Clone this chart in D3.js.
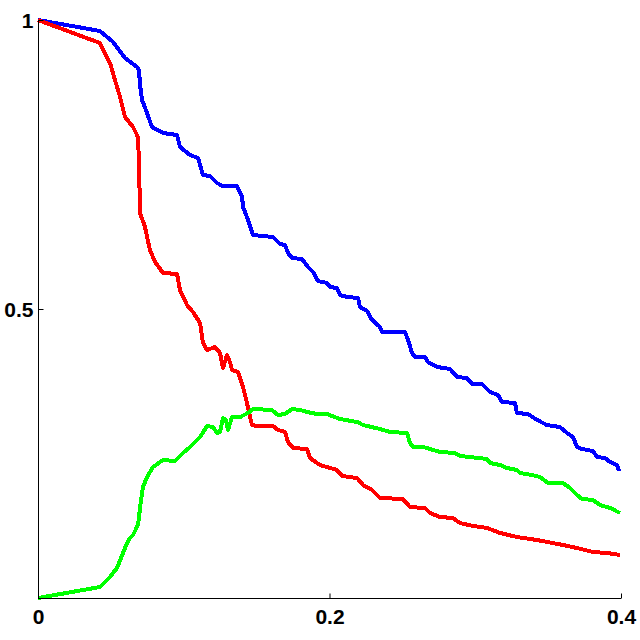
<!DOCTYPE html>
<html><head><meta charset="utf-8">
<script src="https://cdn.jsdelivr.net/npm/d3@7"></script>
<style>body{margin:0;background:#fff}svg{display:block}</style>
</head><body>
<svg id="c" width="640" height="640"></svg>
<script>
const xTicks = [0, 0.2, 0.4];
const xTickLabels = ["0", "0.2", "0.4"];
const yTicks = [0.5, 1];
const yTickLabels = ["0.5", "1"];

const blue = [[0,1],[0.0425,0.9810],[0.0515,0.9619],[0.0597,0.9343],[0.0679,0.9187],[0.0693,0.9135],[0.0700,0.8875],[0.0714,0.8616],[0.0748,0.8391],[0.0782,0.8149],[0.0858,0.8045],[0.0954,0.8010],[0.0974,0.7803],[0.1043,0.7664],[0.1098,0.7612],[0.1132,0.7318],[0.1180,0.7301],[0.1228,0.7180],[0.1269,0.7128],[0.1365,0.7128],[0.1400,0.6938],[0.1407,0.6765],[0.1441,0.6540],[0.1475,0.6280],[0.1612,0.6246],[0.1660,0.6125],[0.1695,0.6107],[0.1715,0.5969],[0.1743,0.5882],[0.1811,0.5865],[0.1852,0.5727],[0.1887,0.5640],[0.1921,0.5484],[0.1983,0.5450],[0.2003,0.5381],[0.2051,0.5363],[0.2072,0.5242],[0.2120,0.5208],[0.2196,0.5190],[0.2209,0.5035],[0.2257,0.4965],[0.2292,0.4810],[0.2346,0.4689],[0.2360,0.4602],[0.2518,0.4602],[0.2539,0.4464],[0.2566,0.4239],[0.2587,0.4170],[0.2655,0.4170],[0.2676,0.4083],[0.2738,0.3997],[0.2827,0.3962],[0.2875,0.3824],[0.2943,0.3806],[0.2978,0.3702],[0.3046,0.3702],[0.3101,0.3564],[0.3156,0.3512],[0.3184,0.3391],[0.3273,0.3374],[0.3286,0.3201],[0.3362,0.3183],[0.3424,0.3080],[0.3492,0.2993],[0.3581,0.2958],[0.3630,0.2855],[0.3671,0.2785],[0.3698,0.2612],[0.3732,0.2578],[0.3808,0.2543],[0.3835,0.2439],[0.3890,0.2422],[0.3925,0.2353],[0.3973,0.2301],[0.3986,0.2197]];

const red = [[0,1],[0.0425,0.9602],[0.0494,0.9256],[0.0528,0.8962],[0.0563,0.8668],[0.0597,0.8322],[0.0652,0.8149],[0.0686,0.7976],[0.0693,0.7526],[0.0700,0.6661],[0.0734,0.6419],[0.0768,0.6021],[0.0803,0.5813],[0.0858,0.5623],[0.0954,0.5606],[0.0974,0.5329],[0.1022,0.5069],[0.1063,0.4948],[0.1112,0.4758],[0.1132,0.4412],[0.1160,0.4291],[0.1214,0.4343],[0.1249,0.4239],[0.1269,0.3979],[0.1297,0.4204],[0.1317,0.4083],[0.1331,0.3945],[0.1372,0.3910],[0.1407,0.3651],[0.1434,0.3374],[0.1455,0.3131],[0.1468,0.2993],[0.1503,0.2976],[0.1612,0.2976],[0.1647,0.2907],[0.1695,0.2872],[0.1715,0.2699],[0.1750,0.2595],[0.1846,0.2578],[0.1866,0.2422],[0.1935,0.2301],[0.2051,0.2215],[0.2086,0.2111],[0.2189,0.2076],[0.2230,0.1955],[0.2292,0.1869],[0.2346,0.1730],[0.2504,0.1713],[0.2552,0.1574],[0.2655,0.1557],[0.2690,0.1471],[0.2758,0.1401],[0.2847,0.1384],[0.2895,0.1298],[0.2985,0.1246],[0.3081,0.1211],[0.3170,0.1125],[0.3286,0.1055],[0.3424,0.1003],[0.3602,0.0917],[0.3698,0.0865],[0.3808,0.0796],[0.3904,0.0779],[0.3993,0.0744]];

const green = [[0,0],[0.0425,0.0190],[0.0494,0.0363],[0.0542,0.0519],[0.0583,0.0779],[0.0611,0.0952],[0.0631,0.1038],[0.0652,0.1090],[0.0686,0.1263],[0.0707,0.1696],[0.0720,0.1920],[0.0748,0.2093],[0.0789,0.2266],[0.0858,0.2388],[0.0940,0.2370],[0.0995,0.2509],[0.1043,0.2612],[0.1091,0.2734],[0.1112,0.2785],[0.1160,0.2976],[0.1201,0.2958],[0.1228,0.2855],[0.1249,0.2872],[0.1269,0.3114],[0.1290,0.3080],[0.1304,0.2907],[0.1331,0.3131],[0.1386,0.3131],[0.1441,0.3201],[0.1475,0.3270],[0.1605,0.3253],[0.1647,0.3166],[0.1695,0.3183],[0.1743,0.3270],[0.1798,0.3253],[0.1846,0.3218],[0.1914,0.3183],[0.1983,0.3183],[0.2072,0.3097],[0.2189,0.3045],[0.2230,0.2993],[0.2346,0.2924],[0.2415,0.2872],[0.2532,0.2855],[0.2552,0.2682],[0.2573,0.2612],[0.2642,0.2612],[0.2690,0.2578],[0.2758,0.2526],[0.2861,0.2509],[0.2895,0.2457],[0.2964,0.2439],[0.3081,0.2405],[0.3101,0.2336],[0.3170,0.2301],[0.3218,0.2249],[0.3286,0.2215],[0.3307,0.2163],[0.3389,0.2128],[0.3444,0.2093],[0.3499,0.1990],[0.3602,0.1990],[0.3650,0.1903],[0.3698,0.1782],[0.3732,0.1713],[0.3808,0.1696],[0.3856,0.1609],[0.3925,0.1557],[0.3993,0.1471]];

const seriesList = [
  {name: "blue", data: blue, color: "#0000ff"},
  {name: "red", data: red, color: "#ff0000"},
  {name: "green", data: green, color: "#00ff00"}
];

const svg = d3.select("#c");
const mLeft = 38, mRight = 621, mTop = 20, mBottom = 598;
const x = d3.scaleLinear().domain([0, 0.4]).range([mLeft, mRight]);
const y = d3.scaleLinear().domain([0, 1]).range([mBottom, mTop]);

const line = d3.line().x(d => x(d[0])).y(d => y(d[1]));
svg.append("g").selectAll("path").data(seriesList).join("path")
  .attr("d", d => line(d.data))
  .attr("fill", "none")
  .attr("stroke", d => d.color)
  .attr("stroke-width", 4)
  .attr("stroke-linejoin", "round")
  .attr("stroke-linecap", "butt")
  .attr("shape-rendering", "crispEdges");

const fontFam = "'Liberation Sans',Arial,Helvetica,sans-serif";

// x axis
const xa = svg.append("g").attr("transform", `translate(0,${mBottom + 0.5})`)
  .call(d3.axisBottom(x).tickValues(xTicks).tickSize(-5).tickPadding(0).tickFormat((d,i) => xTickLabels[i]));
xa.select(".domain").attr("d", `M${mLeft},0H${mRight}`).attr("stroke", "#000");
xa.selectAll(".tick line").attr("stroke", "#000");
xa.selectAll(".tick text").attr("y", 0).attr("dy", "25px").attr("fill", "#000")
  .style("font-size", "21px").style("font-weight", "bold").style("font-family", fontFam);

// y axis
const ya = svg.append("g").attr("transform", `translate(${mLeft + 0.5},0)`)
  .call(d3.axisLeft(y).tickValues(yTicks).tickSize(-5).tickPadding(0).tickFormat((d,i) => yTickLabels[i]));
ya.select(".domain").attr("d", `M0,${mTop}V${mBottom}`).attr("stroke", "#000");
ya.selectAll(".tick line").attr("stroke", "#000");
ya.selectAll(".tick text").attr("x", -5).attr("dy", "7.5px").attr("fill", "#000")
  .style("font-size", "21px").style("font-weight", "bold").style("font-family", fontFam);
</script>
</body></html>
